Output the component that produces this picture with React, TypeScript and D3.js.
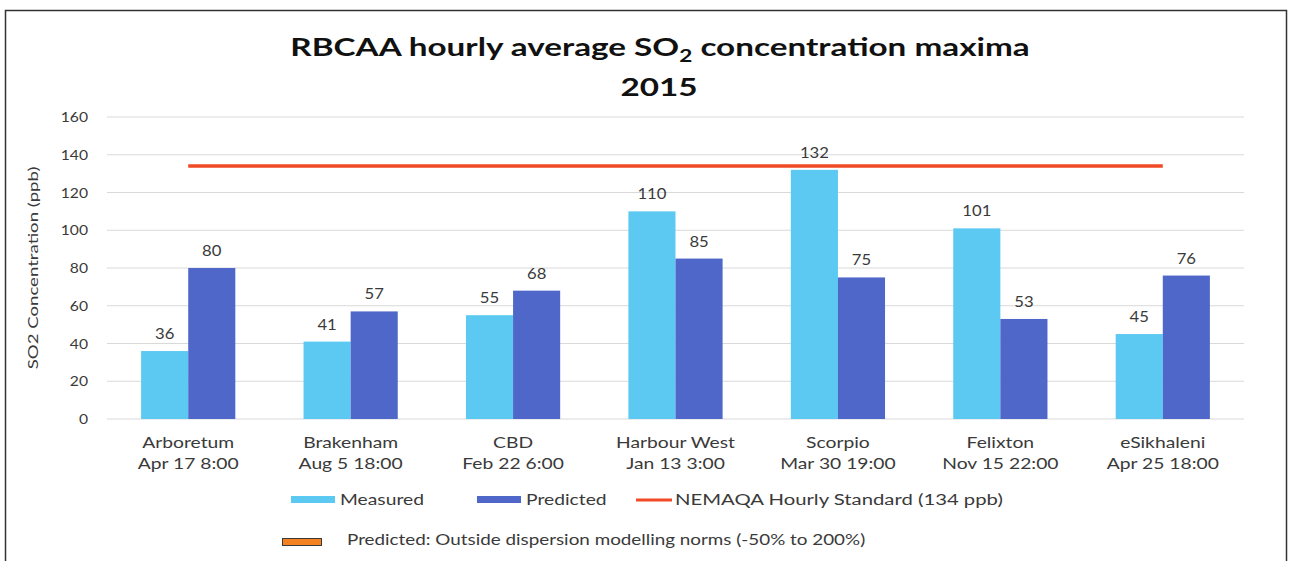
import * as d3 from 'd3';
import { useEffect } from 'react';

const sites = ['Arboretum', 'Brakenham', 'CBD', 'Harbour West', 'Scorpio', 'Felixton', 'eSikhaleni'];
const dates = ['Apr 17 8:00', 'Aug 5 18:00', 'Feb 22 6:00', 'Jan 13 3:00', 'Mar 30 19:00', 'Nov 15 22:00', 'Apr 25 18:00'];
const measured = [36, 41, 55, 110, 132, 101, 45];
const predicted = [80, 57, 68, 85, 75, 53, 76];
const standard = 134;
const yTicks = [0, 20, 40, 60, 80, 100, 120, 140, 160];
const seriesNames = ['Measured', 'Predicted'];

const W = 1289, H = 561;
const margin = { left: 107, right: 45, top: 117, bottom: 141 };
const font = 'Lato, "Open Sans", sans-serif';
const txt = '#3a3a3a';
const colors = ['#5bc9f1', '#4f67c9'];
const red = '#f04a26';

// the source image is stretched sideways, so the text is widened to match
function Wide({ x, y, sx = 1.33, rotate = 0, anchor = 'middle', size = 14, weight = 'normal', fill = txt, children }) {
	return (
		<text
			transform={`translate(${x},${y}) rotate(${rotate}) scale(${sx},1)`}
			textAnchor={anchor}
			fontSize={size}
			fontWeight={weight}
			fill={fill}
		>{children}</text>
	);
}

export default function App() {
	useEffect(() => { document.body.style.margin = '0'; }, []);

	const x = d3.scaleBand().domain(sites).range([margin.left, W - margin.right]).paddingInner(0.42).paddingOuter(0.21);
	const xs = d3.scaleBand().domain(seriesNames).range([0, x.bandwidth()]);
	const y = d3.scaleLinear().domain([0, 160]).range([H - margin.bottom - 1, margin.top]);

	const center = (s) => x(s) + x.bandwidth() / 2;

	return (
		<svg width={W} height={H} style={{ display: 'block', fontFamily: font }}>
			<rect x={0} y={0} width={W} height={H} fill='#fff' />
			<rect x={5.5} y={10.5} width={1281} height={H} fill='none' stroke='#333' strokeWidth={1.5} />

			<Wide x={660} y={56} size={25} weight='bold' fill='#111'>
				RBCAA hourly average SO<tspan dy={6} fontSize={17}>2</tspan><tspan dy={-6}> concentration maxima</tspan>
			</Wide>
			<Wide x={659} y={96} size={25} weight='bold' fill='#111'>2015</Wide>

			{yTicks.map(t => (
				<g key={t}>
					<line x1={margin.left} x2={W - margin.right} y1={y(t)} y2={y(t)} stroke='#d9d9d9' strokeWidth={1} />
					<Wide x={88} y={y(t) + 5} sx={1.12} anchor='end' size={14}>{t}</Wide>
				</g>
			))}

			<Wide x={38} y={y(80)} rotate={-90} size={14}>SO2 Concentration (ppb)</Wide>

			{sites.map((s, i) => (
				<g key={s}>
					{[measured[i], predicted[i]].map((v, j) => (
						<g key={j}>
							<rect x={x(s) + xs(seriesNames[j])} width={xs.bandwidth()} y={y(v)} height={y(0) - y(v)} fill={colors[j]} />
							<Wide x={x(s) + xs(seriesNames[j]) + xs.bandwidth() / 2} y={y(v) - 12} sx={1.15} size={14.5}>{v}</Wide>
						</g>
					))}
					<Wide x={center(s)} y={448} size={14.5}>{s}</Wide>
					<Wide x={center(s)} y={469} size={14.5}>{dates[i]}</Wide>
				</g>
			))}

			<line x1={center(sites[0])} x2={center(sites[sites.length - 1])} y1={y(standard)} y2={y(standard)} stroke={red} strokeWidth={3.5} />

			<g>
				<rect x={291} y={496} width={44} height={7} fill={colors[0]} />
				<Wide x={340} y={505} anchor='start' size={14.5}>Measured</Wide>
				<rect x={477} y={496} width={44} height={7} fill={colors[1]} />
				<Wide x={526} y={505} anchor='start' size={14.5}>Predicted</Wide>
				<line x1={636} x2={672} y1={500} y2={500} stroke={red} strokeWidth={3} />
				<Wide x={675} y={505} anchor='start' size={14.5} sx={1.4}>NEMAQA Hourly Standard (134 ppb)</Wide>
				<rect x={282.5} y={538.5} width={39} height={7} fill='#f58220' stroke='#3a3a3a' strokeWidth={1} />
				<Wide x={347} y={545} anchor='start' size={14.5} sx={1.3}>Predicted: Outside dispersion modelling norms (-50% to 200%)</Wide>
			</g>
		</svg>
	);
}
